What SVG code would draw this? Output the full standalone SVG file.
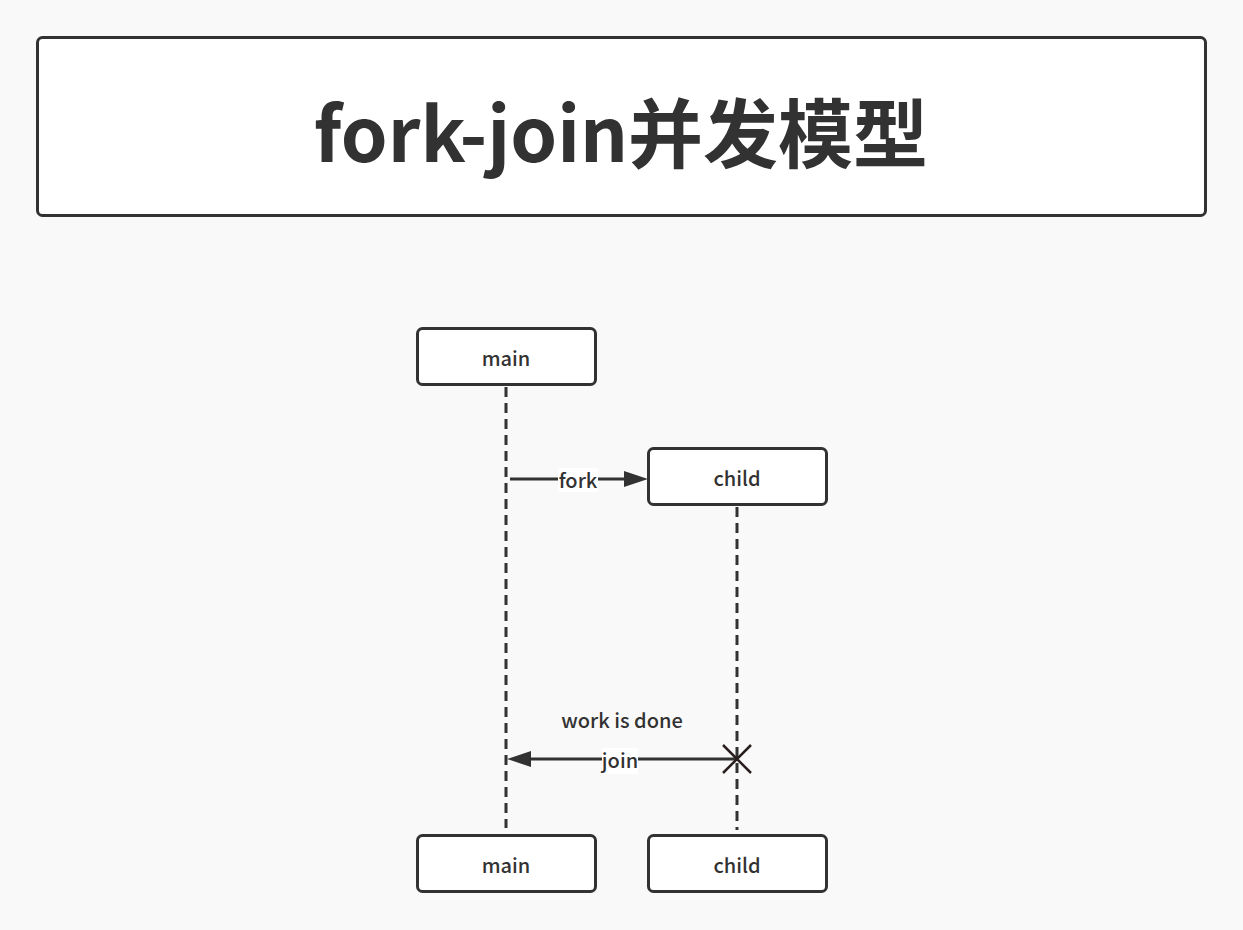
<svg xmlns="http://www.w3.org/2000/svg" width="1243" height="930" viewBox="0 0 1243 930">
<defs>
<style>
.box{fill:#ffffff;stroke:#323232;stroke-width:3}
.lbl{font-family:"Noto Sans CJK SC","Noto Sans",sans-serif;font-size:20px;fill:#323232;text-anchor:middle;font-weight:500}
.life{stroke:#323232;stroke-width:3;stroke-dasharray:10 6;fill:none}
.msg{stroke:#323232;stroke-width:3;fill:none}
.head{fill:#323232}
</style>
</defs>
<rect width="1243" height="930" fill="#f9f9f9"/>
<g id="title">
<rect class="box" x="37.5" y="37.5" width="1168" height="178" rx="5"/>
<text x="621" y="162" font-family="Noto Sans CJK SC, sans-serif" font-size="75" font-weight="700" fill="#323232" text-anchor="middle">fork-join并发模型</text>
</g>
<g id="connectors">
<line class="life" x1="506" y1="387" x2="506" y2="828"/>
<line class="life" x1="737" y1="507" x2="737" y2="830"/>
<line class="msg" x1="510" y1="479" x2="628" y2="479"/>
<polygon class="head" points="624,471 648,479 624,487"/>
<rect x="558" y="468" width="40" height="24" fill="#ffffff"/>
<text class="lbl" x="578" y="488">fork</text>
<line class="msg" x1="737" y1="759" x2="525" y2="759"/>
<polygon class="head" points="531,751 507,759 531,767"/>
<rect x="602" y="748" width="36" height="26" fill="#ffffff"/>
<text class="lbl" x="620" y="768">join</text>
<path d="M723,745 L751,773 M751,745 L723,773" stroke="#2a1f1f" stroke-width="2.5"/>
<text class="lbl" x="622" y="728">work is done</text>
</g>
<g id="main-top">
<rect class="box" x="417.5" y="328.5" width="178" height="56" rx="5"/>
<text class="lbl" x="506" y="366">main</text>
</g>
<g id="child-top">
<rect class="box" x="648.5" y="448.5" width="178" height="56" rx="5"/>
<text class="lbl" x="737" y="486">child</text>
</g>
<g id="main-bottom">
<rect class="box" x="417.5" y="835.5" width="178" height="56" rx="5"/>
<text class="lbl" x="506" y="873">main</text>
</g>
<g id="child-bottom">
<rect class="box" x="648.5" y="835.5" width="178" height="56" rx="5"/>
<text class="lbl" x="737" y="873">child</text>
</g>
</svg>
